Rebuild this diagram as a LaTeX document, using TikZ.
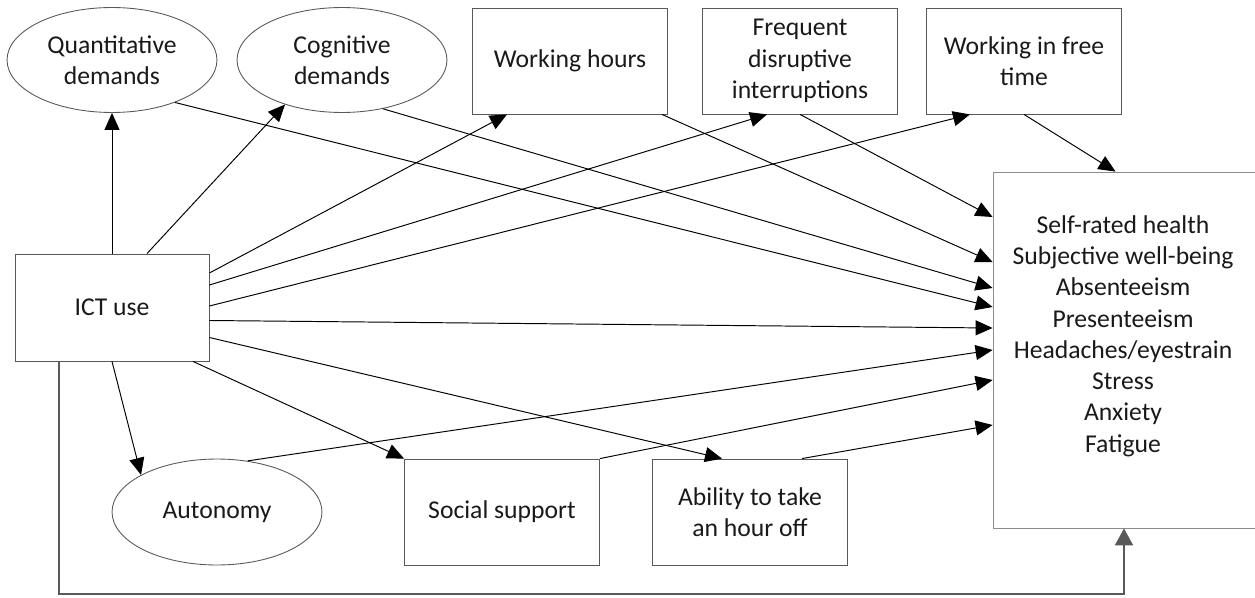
\documentclass[tikz,border=0pt]{standalone}
\usepackage{fontspec}
\setmainfont{Carlito}
\usetikzlibrary{shapes.geometric,arrows.meta}
\definecolor{boxgray}{rgb}{0.35,0.35,0.35}
\definecolor{lightgray}{rgb}{0.55,0.55,0.55}

\begin{document}
\begin{tikzpicture}[x=0.02cm,y=-0.02cm,
    every node/.style={font=\fontsize{14.6}{17.8}\selectfont, align=center, text=black!90},
    oval/.style={ellipse, draw=boxgray, line width=0.5pt, minimum width=4.2cm, minimum height=2.1cm, inner sep=0pt},
    factor/.style={rectangle, draw=boxgray, line width=0.5pt, minimum width=3.9cm, minimum height=2.12cm, inner sep=0pt},
    link/.style={line width=0.55pt, -{Triangle[length=0.34cm,width=0.3cm]}}]

  \useasboundingbox (0,0) rectangle (1255,598);

  % Draw mediators (top row)
  \node[oval] (quant) at (112,60) {Quantitative\\demands};
  \node[oval] (cogn) at (342,60) {Cognitive\\demands};
  \node[factor] (hours) at (570,61) {Working hours};
  \node[factor] (interr) at (800,61) {Frequent\\disruptive\\interruptions};
  \node[factor] (free) at (1024,61) {Working in free\\time};

  % Draw exposure
  \node[factor, minimum width=3.88cm, minimum height=2.14cm] (ict) at (112,307.5) {ICT use};

  % Draw mediators (bottom row)
  \node[oval, minimum height=2.12cm] (auton) at (217,512) {Autonomy};
  \node[factor] (social) at (502,512) {Social support};
  \node[factor] (ability) at (750,512) {Ability to take\\an hour off};

  % Draw outcomes (right edge runs off the page)
  \node[factor, draw=lightgray, minimum width=5.5cm, minimum height=7.12cm] (health) at (1130.5,350) {};
  \node (healthtext) at (1123,336) {Self-rated health\\Subjective well-being\\Absenteeism\\Presenteeism\\Headaches/eyestrain\\Stress\\Anxiety\\Fatigue};

  % Draw paths from ICT use to the mediators
  \draw[link] (ict.north) -- (quant.south);
  \draw[link] ([xshift=0.7cm]ict.north) -- (cogn.218);
  \draw[link] ([yshift=0.69cm]ict.east) -- ([xshift=-1.26cm]hours.south);
  \draw[link] ([yshift=0.45cm]ict.east) -- ([xshift=-0.66cm]interr.south);
  \draw[link] ([yshift=0.03cm]ict.east) -- ([xshift=-1.08cm]free.south);
  \draw[link] ([yshift=-0.26cm]ict.east) -- ([yshift=0.44cm]health.west);
  \draw[link] ([yshift=-0.6cm]ict.east) -- ([xshift=-0.56cm]ability.north);
  \draw[link] ([xshift=1.62cm]ict.south) -- (social.north west);
  \draw[link] (ict.south) -- (auton.154);

  % Draw paths from the mediators to the outcomes
  \draw[link] (interr.south) -- ([yshift=2.66cm]health.west);
  \draw[link] ([xshift=1.84cm]hours.south) -- ([yshift=1.76cm]health.west);
  \draw[link] (cogn.310) -- ([yshift=1.24cm]health.west);
  \draw[link] (quant.326) -- ([yshift=0.86cm]health.west);
  \draw[link] (auton.59) -- (health.west);
  \draw[link] (social.north east) -- ([yshift=-0.6cm]health.west);
  \draw[link] ([xshift=1.04cm]ability.north) -- ([yshift=-1.5cm]health.west);
  \draw[link] (free.south) -- ([xshift=-0.3cm]health.north);

  % Draw direct path
  \draw[line width=1.1pt, boxgray, -{Triangle[length=0.34cm,width=0.36cm]}] ([xshift=-1.06cm]ict.south) |- ([xshift=-0.13cm,yshift=-1.32cm]health.south) -- ([xshift=-0.13cm]health.south);

\end{tikzpicture}
\end{document}
